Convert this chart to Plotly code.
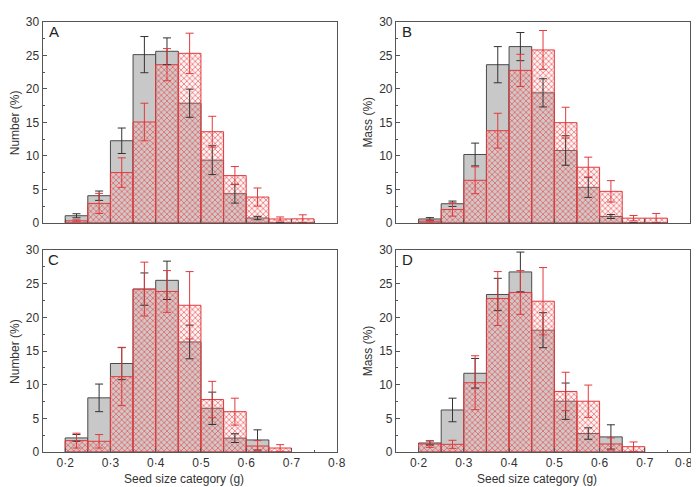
import plotly.graph_objects as go

# ---- data ----
bin_left_11 = [0.20, 0.25, 0.30, 0.35, 0.40, 0.45, 0.50, 0.55, 0.60, 0.65, 0.70]
bin_left_10 = [0.20, 0.25, 0.30, 0.35, 0.40, 0.45, 0.50, 0.55, 0.60, 0.65]
bin_width = 0.05

a_gray = [1.06, 4.05, 12.25, 25.1, 25.6, 17.85, 9.35, 4.35, 0.72, 0, 0]
a_gray_err = [0.3, 0.7, 1.9, 2.7, 2.0, 2.1, 2.15, 1.4, 0.25, 0, 0]
a_red = [0.3, 2.9, 7.5, 15.05, 23.6, 25.3, 13.6, 7.05, 3.85, 0.58, 0.6]
a_red_err = [0.15, 1.5, 2.2, 2.8, 2.4, 3.0, 2.3, 1.35, 1.35, 0.3, 0.6]

b_gray = [0.58, 2.85, 10.2, 23.6, 26.3, 19.4, 10.8, 5.3, 0.95, 0, 0]
b_gray_err = [0.2, 0.4, 1.7, 2.7, 2.1, 2.1, 2.2, 1.5, 0.3, 0, 0]
b_red = [0.25, 2.0, 6.35, 13.75, 22.75, 25.8, 14.95, 8.3, 4.7, 0.7, 0.7]
b_red_err = [0.15, 1.0, 2.0, 2.6, 2.4, 2.9, 2.3, 1.5, 1.6, 0.4, 0.7]

c_gray = [2.1, 8.05, 13.15, 24.2, 25.5, 16.35, 6.5, 2.07, 1.8, 0]
c_gray_err = [0.5, 2.05, 2.4, 2.4, 2.85, 2.5, 2.4, 0.65, 1.5, 0]
c_red = [1.7, 1.6, 11.2, 24.2, 23.85, 21.8, 7.8, 6.0, 0.9, 0.6]
c_red_err = [1.1, 1.0, 4.3, 4.0, 3.1, 5.0, 2.7, 2.0, 0.8, 0.5]

d_gray = [1.35, 6.25, 11.7, 23.4, 26.75, 18.1, 7.55, 2.75, 2.25, 0]
d_gray_err = [0.3, 1.75, 2.2, 2.4, 2.95, 2.6, 2.7, 0.85, 1.8, 0]
d_red = [1.2, 1.15, 10.3, 22.8, 23.7, 22.4, 9.0, 7.55, 1.2, 0.8]
d_red_err = [0.5, 0.6, 4.0, 4.0, 3.25, 5.0, 2.85, 2.4, 0.9, 0.7]

x_tickvals = [0.2, 0.3, 0.4, 0.5, 0.6, 0.7, 0.8]
x_ticktext = ["0·2", "0·3", "0·4", "0·5", "0·6", "0·7", "0·8"]
y_tickvals = [0, 5, 10, 15, 20, 25, 30]
panel_letters = ["A", "B", "C", "D"]
y_titles = ["Number (%)", "Mass (%)", "Number (%)", "Mass (%)"]
x_title = "Seed size category (g)"

# ---- styling ----
W, H = 699, 487
FONT = "Liberation Sans, Arial, Helvetica, sans-serif"
GRAY_FILL = "#c8c8c8"
GRAY_LINE = "#4a4a4a"
RED = "#e23a3d"
AXIS = "#555555"
TEXT = "#333333"

# panel pixel boxes (left, right, top, bottom)
boxes = [(35, 333, 7, 214), (393, 691, 7, 214), (35, 333, 242, 450), (393, 691, 242, 450)]

panels = [
    (bin_left_11, a_gray, a_gray_err, a_red, a_red_err),
    (bin_left_11, b_gray, b_gray_err, b_red, b_red_err),
    (bin_left_10, c_gray, c_gray_err, c_red, c_red_err),
    (bin_left_10, d_gray, d_gray_err, d_red, d_red_err),
]

fig = go.Figure()
layout = dict(
    width=W, height=H, margin=dict(l=0, r=0, t=0, b=0),
    paper_bgcolor="white", plot_bgcolor="white",
    showlegend=False, barmode="overlay",
    font=dict(family=FONT, size=12, color=TEXT),
)
annotations = []

for i, (lefts, g, ge, r, re) in enumerate(panels):
    n = i + 1
    xa = "x" if n == 1 else f"x{n}"
    ya = "y" if n == 1 else f"y{n}"
    centers = [v + bin_width / 2 for v in lefts]
    fig.add_trace(go.Bar(
        x=centers, y=g, width=bin_width, xaxis=xa, yaxis=ya,
        marker=dict(color=GRAY_FILL, line=dict(color=GRAY_LINE, width=1)),
    ))
    fig.add_trace(go.Bar(
        x=centers, y=r, width=bin_width, xaxis=xa, yaxis=ya,
        marker=dict(color="rgba(255,190,190,0.2)",
                    line=dict(color=RED, width=1),
                    pattern=dict(shape="x", fgcolor=RED, size=4, solidity=0.3,
                                 fillmode="overlay", fgopacity=0.85)),
    ))
    # error bars drawn above both bar series
    fig.add_trace(go.Scatter(
        x=centers, y=g, mode="markers", xaxis=xa, yaxis=ya,
        marker=dict(size=0.1, color="rgba(0,0,0,0)"),
        error_y=dict(type="data", array=ge, color="#333333", thickness=1, width=4),
        hoverinfo="skip",
    ))
    fig.add_trace(go.Scatter(
        x=centers, y=r, mode="markers", xaxis=xa, yaxis=ya,
        marker=dict(size=0.1, color="rgba(0,0,0,0)"),
        error_y=dict(type="data", array=re, color=RED, thickness=1, width=4),
        hoverinfo="skip",
    ))

    L, R, T, B = boxes[i]
    xdom = [L / W, R / W]
    ydom = [1 - B / H, 1 - T / H]
    xkey = "xaxis" if n == 1 else f"xaxis{n}"
    ykey = "yaxis" if n == 1 else f"yaxis{n}"
    bottom = i >= 2
    right = i % 2 == 1
    tv = x_tickvals[:-1] if right else x_tickvals
    tt = x_ticktext[:-1] if right else x_ticktext
    layout[xkey] = dict(
        domain=xdom, anchor=ya, range=[0.15, 0.8],
        tickvals=tv, ticktext=tt, showticklabels=bottom,
        ticks="inside", ticklen=4, tickcolor=AXIS, tickwidth=1,
        minor=dict(ticks="inside", ticklen=2, dtick=0.05, tickcolor=AXIS),
        showline=True, linecolor=AXIS, linewidth=1, mirror=True,
        showgrid=False, zeroline=False,
        tickfont=dict(size=12, color=TEXT, family=FONT),
    )
    layout[ykey] = dict(
        domain=ydom, anchor=xa, range=[0, 30],
        tickvals=y_tickvals, ticks="inside", ticklen=4, tickcolor=AXIS, tickwidth=1,
        minor=dict(ticks="inside", ticklen=2, dtick=2.5, tickcolor=AXIS),
        showline=True, linecolor=AXIS, linewidth=1, mirror=True,
        showgrid=False, zeroline=False,
        tickfont=dict(size=12, color=TEXT, family=FONT),
    )
    # panel letter
    annotations.append(dict(
        text=panel_letters[i], x=(L + 11.5) / W, y=1 - (T + 10) / H,
        xref="paper", yref="paper", xanchor="center", yanchor="middle",
        showarrow=False, font=dict(size=15, color="#222222", family=FONT),
    ))
    # y-axis title
    annotations.append(dict(
        text=y_titles[i], x=(L - 28) / W, y=1 - ((T + B) / 2) / H,
        xref="paper", yref="paper", xanchor="center", yanchor="middle",
        textangle=-90, showarrow=False, font=dict(size=12, color=TEXT, family=FONT),
    ))
    if bottom:
        annotations.append(dict(
            text=x_title, x=((L + R) / 2 - 6) / W, y=1 - 478 / H,
            xref="paper", yref="paper", xanchor="center", yanchor="middle",
            showarrow=False, font=dict(size=12, color=TEXT, family=FONT),
        ))
        if right:
            # last tick label of the right-hand panel, kept inside the page
            annotations.append(dict(
                text=x_ticktext[-1], x=(W - 3) / W, y=1 - 461 / H,
                xref="paper", yref="paper", xanchor="right", yanchor="middle",
                showarrow=False, font=dict(size=12, color=TEXT, family=FONT),
            ))

layout["annotations"] = annotations
fig.update_layout(**layout)
fig.write_html("out.html")
